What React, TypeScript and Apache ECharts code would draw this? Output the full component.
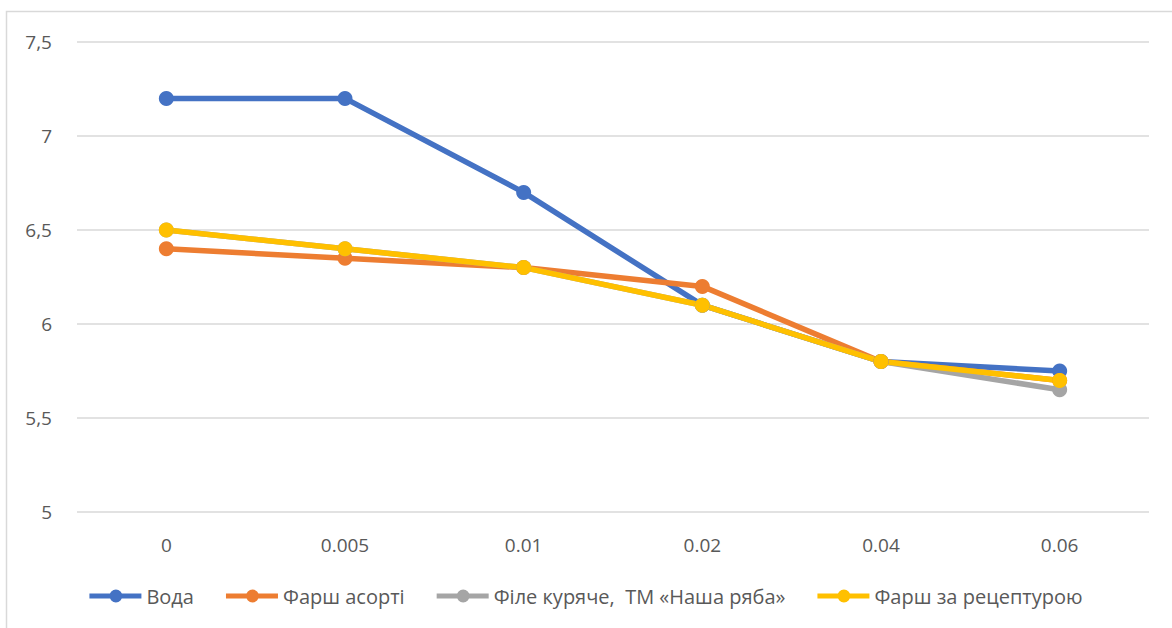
import React, { useEffect, useRef } from "react";
import * as echarts from "echarts";

const categories = ["0", "0.005", "0.01", "0.02", "0.04", "0.06"];
const seriesNames = ["Вода", "Фарш асорті", "Філе куряче,  ТМ «Наша ряба»", "Фарш за рецептурою"];
const voda = [7.2, 7.2, 6.7, 6.1, 5.8, 5.75];
const farshAsorti = [6.4, 6.35, 6.3, 6.2, 5.8, 5.7];
const file = [6.5, 6.4, 6.3, 6.1, 5.8, 5.65];
const farshRecept = [6.5, 6.4, 6.3, 6.1, 5.8, 5.7];
const colors = ["#4472C4", "#ED7D31", "#A5A5A5", "#FFC000"];

const FONT = "'Open Sans', sans-serif";
const LEGEND_ICON =
  "path://M0,4 L21,4 L21,9 L0,9 Z M32,4 L52,4 L52,9 L32,9 Z M20,6.5 A6.5,6.5 0 1 1 33,6.5 A6.5,6.5 0 1 1 20,6.5 Z";

export default function App() {
  const ref = useRef<HTMLDivElement>(null);
  useEffect(() => {
    document.body.style.margin = "0";
    const chart = echarts.init(ref.current!, undefined, { renderer: "svg" });
    const data = [voda, farshAsorti, file, farshRecept];
    chart.setOption({
      animation: false,
      backgroundColor: "#ffffff",
      color: colors,
      textStyle: { fontFamily: FONT },
      graphic: [
        {
          type: "rect",
          shape: { x: 6.5, y: 11.5, width: 1300, height: 800 },
          style: { fill: "none", stroke: "#D9D9D9", lineWidth: 1.5 },
          silent: true,
        },
      ],
      grid: { left: 77, right: 23, top: 42, bottom: 116, containLabel: false },
      xAxis: {
        type: "category",
        data: categories,
        boundaryGap: true,
        axisLine: { show: false },
        axisTick: { show: false },
        axisLabel: { color: "#595959", fontSize: 19, margin: 23, fontFamily: FONT },
      },
      yAxis: {
        type: "value",
        min: 5,
        max: 7.5,
        interval: 0.5,
        axisLine: { show: false },
        axisTick: { show: false },
        splitLine: { lineStyle: { color: "#D9D9D9", width: 1.5 } },
        axisLabel: {
          color: "#595959",
          fontSize: 19,
          margin: 25,
          fontFamily: FONT,
          formatter: (v: number) => String(v).replace(".", ","),
        },
      },
      legend: {
        bottom: 17,
        left: "center",
        itemWidth: 52,
        itemHeight: 13,
        itemGap: 32,
        icon: LEGEND_ICON,
        textStyle: { color: "#595959", fontSize: 20, fontFamily: FONT },
        data: seriesNames,
      },
      series: seriesNames.map((name, i) => ({
        name,
        type: "line",
        data: data[i],
        symbol: "circle",
        symbolSize: 15,
        lineStyle: { width: 5.5, color: colors[i] },
        itemStyle: { color: colors[i] },
        emphasis: { disabled: true },
      })),
    });
    return () => chart.dispose();
  }, []);
  return <div ref={ref} style={{ width: 1172, height: 628 }} />;
}
